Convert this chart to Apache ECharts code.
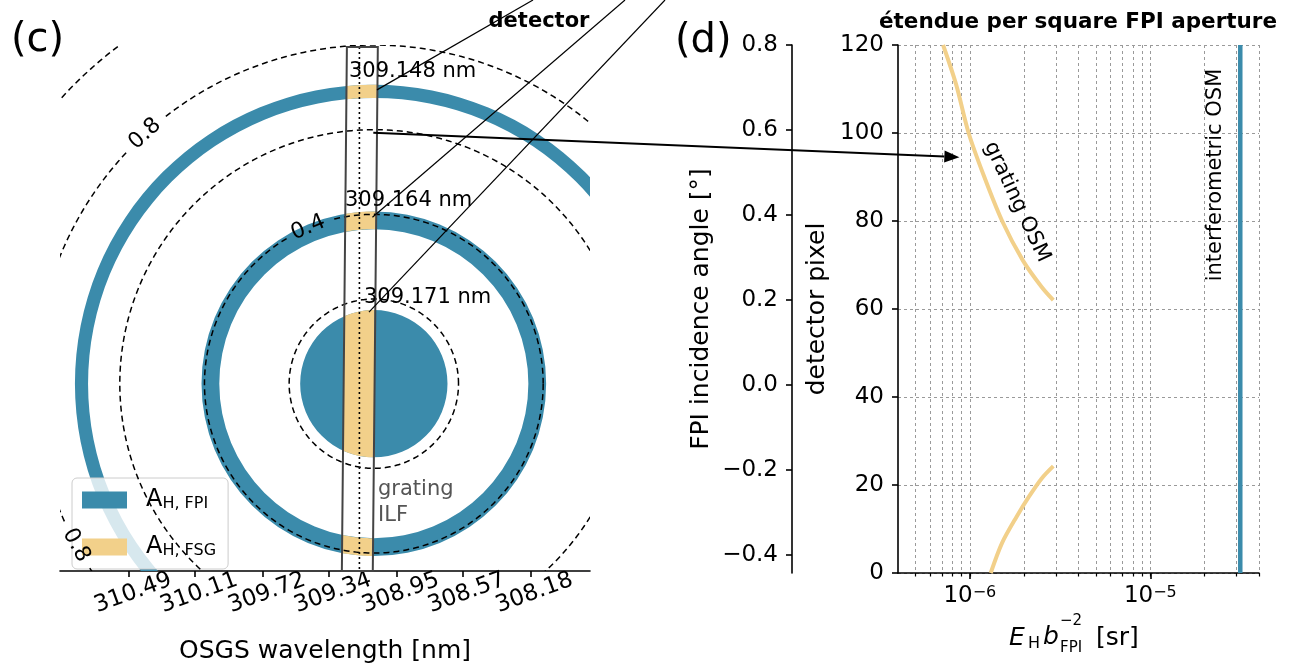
<!DOCTYPE html>
<html><head><meta charset="utf-8">
<script src="https://cdn.jsdelivr.net/npm/echarts@6/dist/echarts.min.js"></script>
<style>html,body{margin:0;padding:0;background:#fff}#c{width:1303px;height:669px}</style>
</head><body><div id="c"></div>
<script>
// ---------------- data ----------------
// panel (c): detector image
const wavelengthTicks = [310.49, 310.11, 309.72, 309.34, 308.95, 308.57, 308.18];
const wavelengthRange = [307.838, 310.888];           // nm (axis runs right -> shorter)
const angleRange = [-0.4424, 0.8];                    // deg, vertical
const ringCenter = [309.082, 0.0];                    // [nm, deg]
const fpiRingInner = [0, 0.365, 0.675];               // deg
const fpiRingOuter = [0.174, 0.407, 0.706];           // deg
const contourLevels = [0.2, 0.4, 0.6, 0.8, 1.0];      // deg
const contourLabelLevels = [0.8, 0.4, 0.8];
const contourLabelAngles = [132.5, 112.8, 208.5];     // position on contour (deg, ccw)
const detectorBoxTop = [309.237, 309.059];            // nm, left/right edge at top
const detectorBoxBottom = [309.266, 309.088];         // nm, left/right edge at bottom
const detectorBoxAngles = [0.795, -0.4424];           // top / bottom (deg)
const detectorCenterLine = 309.165;                   // nm
const ilfLabels = ['309.148 nm', '309.164 nm', '309.171 nm'];

// panel (d): etendue per square FPI aperture
const gratingUpperEtendue = [7.11e-7, 8.4e-7, 9.85e-7, 1.19e-6, 1.51e-6, 1.97e-6, 2.5e-6, 2.9e-6];
const gratingUpperPixel   = [120, 111, 100, 90.5, 80, 71, 65, 62];
const gratingLowerEtendue = [1.305e-6, 1.507e-6, 1.816e-6, 2.13e-6, 2.5e-6, 2.9e-6];
const gratingLowerPixel   = [0, 6.8, 12.8, 17.4, 21.5, 24.3];
const interferometricEtendue = 3.15e-5;
const pixelRange = [0, 120];
const etendueRange = [4e-7, 4e-5];
const etendueMajorTicks = [1e-6, 1e-5];
const etendueGridTicks = [5e-7, 6e-7, 7e-7, 8e-7, 9e-7, 1e-6, 2e-6, 3e-6, 4e-6, 5e-6, 6e-6, 7e-6, 8e-6, 9e-6, 1e-5, 2e-5, 3e-5, 4e-5];
const angleTicks = [-0.4, -0.2, 0.0, 0.2, 0.4, 0.6, 0.8];

// ---------------- style ----------------
const BLUE = '#3b8bab';
const YELLOW = '#f2d08a';
const FONT = 'DejaVu Sans';

const chart = echarts.init(document.getElementById('c'));

function boxCorners(api) {
  return {
    tl: api.coord([detectorBoxTop[0], detectorBoxAngles[0]]),
    tr: api.coord([detectorBoxTop[1], detectorBoxAngles[0]]),
    bl: api.coord([detectorBoxBottom[0], detectorBoxAngles[1]]),
    br: api.coord([detectorBoxBottom[1], detectorBoxAngles[1]])
  };
}
function stripAt(api, y) {
  const b = boxCorners(api);
  const t = (y - b.tl[1]) / (b.bl[1] - b.tl[1]);
  const a = b.tl[0] + (b.bl[0] - b.tl[0]) * t;
  const c = b.tr[0] + (b.br[0] - b.tr[0]) * t;
  return [Math.min(a, c), Math.max(a, c)];
}

function fpiItem(params, api) {
  const c = api.coord([api.value(0), api.value(1)]);
  const r0 = api.size([0, api.value(2)])[1];
  const r1 = api.size([0, api.value(3)])[1];
  if (r0 > 0) return {type: 'ring', shape: {cx: c[0], cy: c[1], r: r1, r0: r0}, style: {fill: BLUE}};
  return {type: 'circle', shape: {cx: c[0], cy: c[1], r: r1}, style: {fill: BLUE}};
}

function fsgItem(params, api) {
  const c = api.coord([api.value(0), api.value(1)]);
  const r0 = api.size([0, api.value(2)])[1];
  const r1 = api.size([0, api.value(3)])[1];
  const N = 16;
  const arcY = (x, r, s) => c[1] + s * Math.sqrt(Math.max(r * r - (x - c[0]) * (x - c[0]), 0));
  const children = [];
  if (r0 > 0) {
    [-1, 1].forEach(s => {
      const st = stripAt(api, c[1] + s * (r0 + r1) / 2);
      const pts = [];
      for (let k = 0; k <= N; k++) { const x = st[0] + (st[1] - st[0]) * k / N; pts.push([x, arcY(x, r1, s)]); }
      for (let k = N; k >= 0; k--) { const x = st[0] + (st[1] - st[0]) * k / N; pts.push([x, arcY(x, r0, s)]); }
      children.push({type: 'polygon', shape: {points: pts}, style: {fill: YELLOW}});
    });
  } else {
    const st = stripAt(api, c[1]);
    const pts = [];
    for (let k = 0; k <= N; k++) { const x = st[0] + (st[1] - st[0]) * k / N; pts.push([x, arcY(x, r1, -1)]); }
    for (let k = N; k >= 0; k--) { const x = st[0] + (st[1] - st[0]) * k / N; pts.push([x, arcY(x, r1, 1)]); }
    children.push({type: 'polygon', shape: {points: pts}, style: {fill: YELLOW}});
  }
  return {type: 'group', children};
}

function contourItem(params, api) {
  const c = api.coord([api.value(0), api.value(1)]);
  const level = api.value(2);
  const r = api.size([0, level])[1];
  const gaps = [], texts = [], segs = [];
  contourLabelLevels.forEach((lv, i) => {
    if (Math.abs(lv - level) < 1e-9) {
      const phi = contourLabelAngles[i] * Math.PI / 180;
      const half = 24 / r;
      gaps.push([phi - half, phi + half]);
      let rot = contourLabelAngles[i] - 90;
      if (rot > 90) rot -= 180;
      texts.push({type: 'text', x: c[0] + r * Math.cos(phi), y: c[1] - r * Math.sin(phi), rotation: rot * Math.PI / 180,
        style: {text: lv.toFixed(1), fontSize: 22, fontFamily: FONT, fill: '#000', align: 'center', verticalAlign: 'middle'}});
    }
  });
  let seg = [];
  for (let d = 0; d <= 360; d += 1) {
    const a = d * Math.PI / 180;
    if (gaps.some(g => a > g[0] && a < g[1])) { if (seg.length > 1) segs.push(seg); seg = []; continue; }
    seg.push([c[0] + r * Math.cos(a), c[1] - r * Math.sin(a)]);
  }
  if (seg.length > 1) segs.push(seg);
  const lines = segs.map(s => ({type: 'polyline', shape: {points: s},
    style: {stroke: '#000', lineWidth: 1.5, lineDash: [6, 4], fill: null}}));
  return {type: 'group', children: lines.concat(texts)};
}

function boxItem(params, api) {
  const b = boxCorners(api);
  const dt = api.coord([detectorCenterLine, detectorBoxAngles[0]]);
  const db = api.coord([detectorCenterLine, detectorBoxAngles[1]]);
  return {type: 'group', children: [
    {type: 'line', shape: {x1: dt[0], y1: dt[1], x2: db[0], y2: db[1]}, style: {stroke: '#000', lineWidth: 1.6, lineDash: [2, 3]}},
    {type: 'polygon', shape: {points: [b.tl, b.tr, b.br, b.bl]}, style: {fill: null, stroke: '#444', lineWidth: 2}}
  ]};
}

const ringData = fpiRingInner.map((r0, i) => [ringCenter[0], ringCenter[1], r0, fpiRingOuter[i]]);
const contourData = contourLevels.map(l => [ringCenter[0], ringCenter[1], l]);
const wavelengthLabelsA = wavelengthTicks.filter((v, i) => i % 2 === 0);
const wavelengthLabelsB = wavelengthTicks.filter((v, i) => i % 2 === 1);

const axisBlack = {color: '#000', width: 1.6};
const tickFont = {fontSize: 23, fontFamily: FONT, color: '#000'};
const nameFont = {fontSize: 25, fontFamily: FONT, color: '#000'};
const allLabels = {interval: 0, showMinLabel: true, showMaxLabel: true, hideOverlap: false};
const wlLabel = vals => Object.assign({customValues: vals, rotate: 20, align: 'center', verticalAlign: 'top', margin: 11,
  formatter: v => v.toFixed(2)}, allLabels, tickFont);

const option = {
  animation: false,
  grid: [
    {left: 60, top: 45, width: 530, height: 528},
    {left: 898, top: 45, width: 361, height: 528}
  ],
  xAxis: [
    {type: 'value', gridIndex: 0, position: 'bottom', min: wavelengthRange[0], max: wavelengthRange[1], inverse: true,
     axisLine: {onZero: false, lineStyle: axisBlack},
     axisTick: {customValues: wavelengthTicks, length: 6, lineStyle: axisBlack},
     axisLabel: wlLabel(wavelengthLabelsA),
     splitLine: {show: false},
     name: 'OSGS wavelength [nm]', nameLocation: 'middle', nameGap: 68, nameTextStyle: nameFont},
    {type: 'log', gridIndex: 1, position: 'bottom', logBase: 10, min: etendueRange[0], max: etendueRange[1],
     axisLine: {onZero: false, lineStyle: axisBlack},
     axisTick: {customValues: etendueMajorTicks, length: 6, lineStyle: axisBlack},
     axisLabel: Object.assign({customValues: etendueMajorTicks, margin: 12,
       formatter: v => '10{sup|−' + Math.round(-Math.log10(v)) + '}',
       rich: {sup: {fontSize: 16, fontFamily: FONT, color: '#000', verticalAlign: 'top'}}}, allLabels, tickFont),
     splitLine: {show: false}},
    {type: 'log', gridIndex: 1, position: 'bottom', logBase: 10, min: etendueRange[0], max: etendueRange[1],
     axisLine: {show: false, onZero: false},
     axisTick: {customValues: etendueGridTicks, length: 3.5, lineStyle: {color: '#000', width: 1.2}},
     axisLabel: {show: false},
     splitLine: {show: true, lineStyle: {color: '#9a9a9a', width: 1, type: [3, 3]}}},
    {type: 'value', gridIndex: 0, position: 'bottom', min: wavelengthRange[0], max: wavelengthRange[1], inverse: true,
     axisLine: {show: false, onZero: false},
     axisTick: {show: false},
     axisLabel: wlLabel(wavelengthLabelsB),
     splitLine: {show: false}}
  ],
  yAxis: [
    {type: 'value', gridIndex: 0, min: angleRange[0], max: angleRange[1], show: false},
    {type: 'value', gridIndex: 1, position: 'left', min: pixelRange[0], max: pixelRange[1], interval: 20,
     axisLine: {show: true, onZero: false, lineStyle: axisBlack},
     axisTick: {show: true, length: 6, lineStyle: axisBlack},
     axisLabel: Object.assign({margin: 14}, allLabels, tickFont),
     splitLine: {show: true, lineStyle: {color: '#9a9a9a', width: 1, type: [3, 3]}},
     name: 'detector pixel', nameLocation: 'middle', nameGap: 68, nameTextStyle: nameFont},
    {type: 'value', gridIndex: 1, position: 'left', offset: 106, min: angleRange[0], max: angleRange[1],
     axisLine: {show: true, onZero: false, lineStyle: axisBlack},
     axisTick: {show: true, customValues: angleTicks, length: 6, lineStyle: axisBlack},
     axisLabel: Object.assign({customValues: angleTicks, margin: 14,
       formatter: v => (v < -1e-9 ? '−' : '') + Math.abs(v).toFixed(1)}, allLabels, tickFont),
     splitLine: {show: false},
     name: 'FPI incidence angle [°]', nameLocation: 'middle', nameGap: 78, nameTextStyle: nameFont}
  ],
  legend: {
    left: 72, top: 478, orient: 'vertical', data: ['FPI', 'FSG'], icon: 'rect',
    itemWidth: 45, itemHeight: 17, itemGap: 23, padding: [10, 12, 10, 10],
    backgroundColor: 'rgba(255,255,255,0.8)', borderColor: '#cccccc', borderWidth: 1, borderRadius: 5,
    formatter: n => '{a|A}{s|H, ' + n + '}',
    textStyle: {fontFamily: FONT, color: '#000', rich: {
      a: {fontSize: 24, fontFamily: FONT, padding: [0, 0, 0, 14]},
      s: {fontSize: 16, fontFamily: FONT, verticalAlign: 'bottom'}}}
  },
  series: [
    {type: 'custom', name: 'FPI', xAxisIndex: 0, yAxisIndex: 0, clip: true, renderItem: fpiItem, data: ringData, itemStyle: {color: BLUE}, z: 2},
    {type: 'custom', name: 'FSG', xAxisIndex: 0, yAxisIndex: 0, clip: true, renderItem: fsgItem, data: ringData, itemStyle: {color: YELLOW}, z: 3},
    {type: 'custom', name: 'contours', xAxisIndex: 0, yAxisIndex: 0, clip: true, renderItem: contourItem, data: contourData, z: 4},
    {type: 'custom', name: 'detector', xAxisIndex: 0, yAxisIndex: 0, clip: false, renderItem: boxItem, data: [[detectorCenterLine, 0]], z: 5},
    {type: 'line', name: 'grating upper', xAxisIndex: 1, yAxisIndex: 1, showSymbol: false, smooth: 0.3,
     data: gratingUpperEtendue.map((e, i) => [e, gratingUpperPixel[i]]), lineStyle: {color: YELLOW, width: 4}, itemStyle: {color: YELLOW}, z: 3},
    {type: 'line', name: 'grating lower', xAxisIndex: 1, yAxisIndex: 1, showSymbol: false, smooth: 0.3,
     data: gratingLowerEtendue.map((e, i) => [e, gratingLowerPixel[i]]), lineStyle: {color: YELLOW, width: 4}, itemStyle: {color: YELLOW}, z: 3},
    {type: 'line', name: 'interferometric', xAxisIndex: 1, yAxisIndex: 1, showSymbol: false,
     data: [[interferometricEtendue, pixelRange[0]], [interferometricEtendue, pixelRange[1]]], lineStyle: {color: BLUE, width: 4.5}, itemStyle: {color: BLUE}, z: 3}
  ]
};
chart.setOption(option);

// -------- annotations --------
function T(x, y, text, st, rotDeg) {
  return {type: 'text', x, y, z: 100, rotation: (rotDeg || 0) * Math.PI / 180,
    style: Object.assign({text, fontFamily: FONT, fontSize: 21, fill: '#000', align: 'left', verticalAlign: 'middle'}, st || {})};
}
const p0 = v => chart.convertToPixel({gridIndex: 0}, v);
const p1 = v => chart.convertToPixel({xAxisIndex: 1, yAxisIndex: 1}, v);
const lineStarts = [p0([309.064, 0.694]), p0([309.09, 0.393]), p0([309.11, 0.169])];
const lineEnds = [[533, 0], [625, 0], [665, 0]];
const arrowStart = p0([309.085, 0.593]);
const arrowEnd = p1([8.75e-7, 94.5]);
const ang = Math.atan2(arrowEnd[1] - arrowStart[1], arrowEnd[0] - arrowStart[0]);
const hl = 15, hw = 6;
const back = [arrowEnd[0] - hl * Math.cos(ang), arrowEnd[1] - hl * Math.sin(ang)];
const head = [arrowEnd,
  [back[0] + hw * Math.sin(ang), back[1] - hw * Math.cos(ang)],
  [back[0] - hw * Math.sin(ang), back[1] + hw * Math.cos(ang)]];

const graphics = [];
lineStarts.forEach((s, i) => graphics.push({type: 'line', z: 100,
  shape: {x1: s[0], y1: s[1], x2: lineEnds[i][0], y2: lineEnds[i][1]}, style: {stroke: '#000', lineWidth: 1.2}}));
graphics.push({type: 'line', z: 100, shape: {x1: arrowStart[0], y1: arrowStart[1], x2: back[0], y2: back[1]}, style: {stroke: '#000', lineWidth: 2}});
graphics.push({type: 'polygon', z: 100, shape: {points: head}, style: {fill: '#000'}});

graphics.push(T(11, 41, '(c)', {fontSize: 40}));
graphics.push(T(675, 42, '(d)', {fontSize: 40}));
graphics.push(T(539, 22, 'detector', {fontWeight: 'bold', align: 'center'}));
graphics.push(T(1078, 22, 'étendue per square FPI aperture', {fontWeight: 'bold', align: 'center', fontSize: 21.5}));
graphics.push(T(349, 72, ilfLabels[0]));
graphics.push(T(345, 201, ilfLabels[1]));
graphics.push(T(364, 298, ilfLabels[2]));
graphics.push(T(378, 490, 'grating', {fill: '#555'}));
graphics.push(T(378, 516, 'ILF', {fill: '#555'}));
graphics.push(T(1216, 175, 'interferometric OSM', {align: 'center'}, 90));
graphics.push(T(1017, 202, 'grating OSM', {align: 'center'}, -65));
// x-axis title of panel (d)
graphics.push(T(1009, 638, 'E', {fontSize: 25, fontStyle: 'italic'}));
graphics.push(T(1028, 644, 'H', {fontSize: 16}));
graphics.push(T(1043, 637, 'b', {fontSize: 25, fontStyle: 'italic'}));
graphics.push(T(1060, 621, '−2', {fontSize: 15}));
graphics.push(T(1060, 648, 'FPI', {fontSize: 15}));
graphics.push(T(1096, 638, '[sr]', {fontSize: 25}));

chart.setOption({graphic: graphics});
</script>
</body></html>
